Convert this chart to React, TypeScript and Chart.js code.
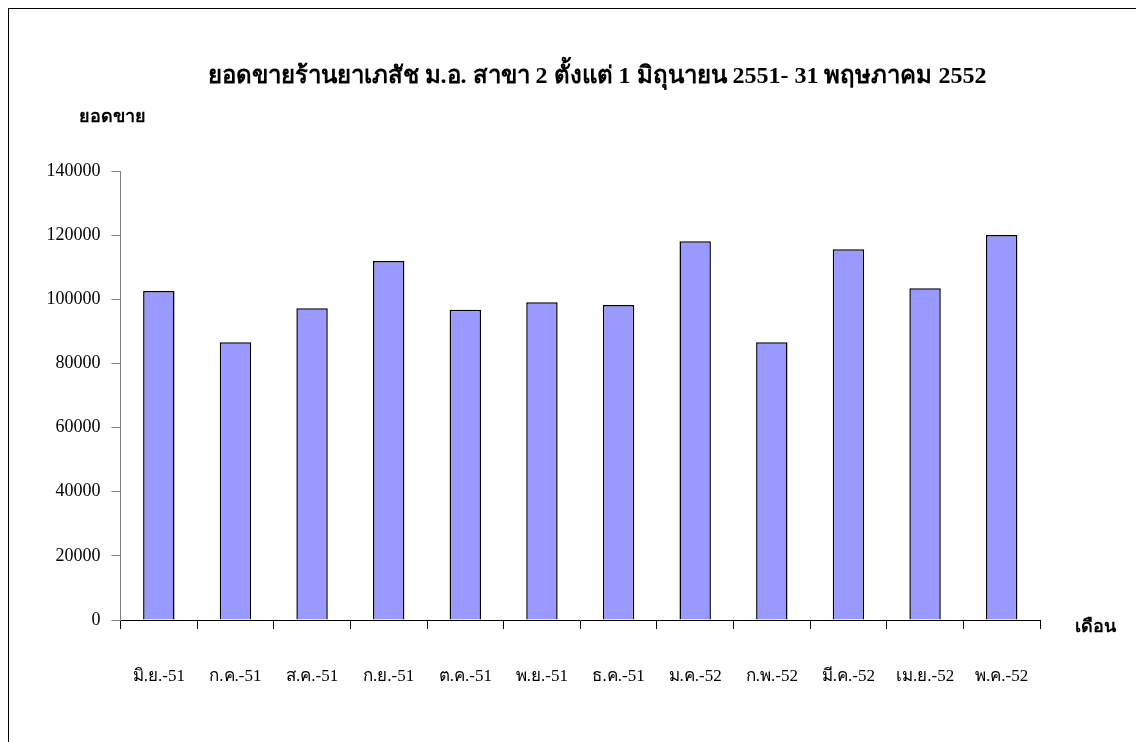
import React, { useEffect, useRef } from "react";
import { Chart, registerables } from "chart.js";

Chart.register(...registerables);

const TITLE = "ยอดขายร้านยาเภสัช ม.อ. สาขา 2 ตั้งแต่ 1 มิถุนายน 2551- 31 พฤษภาคม 2552";
const Y_TITLE = "ยอดขาย";
const X_TITLE = "เดือน";
const MONTHS = [
  "มิ.ย.-51", "ก.ค.-51", "ส.ค.-51", "ก.ย.-51", "ต.ค.-51", "พ.ย.-51",
  "ธ.ค.-51", "ม.ค.-52", "ก.พ.-52", "มี.ค.-52", "เม.ย.-52", "พ.ค.-52",
];
const SALES = [102600, 86600, 97200, 111900, 96700, 99100, 98250, 118100, 86600, 115600, 103450, 120050];
const Y_MIN = 0;
const Y_MAX = 140000;
const Y_STEP = 20000;

const SERIF = "'Liberation Serif', 'Times New Roman', 'DejaVu Serif', serif";

const textPlugin = {
  id: "customText",
  afterDraw(chart: any) {
    const ctx = chart.ctx;
    const area = chart.chartArea;
    ctx.save();
    ctx.fillStyle = "#000";
    ctx.textBaseline = "middle";
    ctx.textAlign = "center";
    ctx.font = `bold 24px ${SERIF}`;
    ctx.fillText(TITLE, 588, 68);
    ctx.textAlign = "left";
    ctx.font = `bold 18px ${SERIF}`;
    ctx.fillText(Y_TITLE, 70, 108);
    ctx.fillText(X_TITLE, area.right + 35, area.bottom + 7);
    ctx.restore();
  },
};

export default function App() {
  const ref = useRef<HTMLCanvasElement>(null);
  useEffect(() => {
    if (!ref.current) return;
    const chart = new Chart(ref.current, {
      type: "bar",
      data: {
        labels: MONTHS,
        datasets: [
          {
            data: SALES,
            backgroundColor: "#9999FF",
            borderColor: "#000000",
            borderWidth: 1.5,
            barPercentage: 0.41,
            categoryPercentage: 1,
          },
        ],
      },
      options: {
        responsive: false,
        animation: false,
        devicePixelRatio: 1,
        layout: { padding: { left: 0, right: 104, top: 162, bottom: 0 } },
        plugins: {
          legend: { display: false },
          title: { display: false },
          tooltip: { enabled: false },
        },
        scales: {
          x: {
            afterFit(scale: any) {
              scale.height = 122;
            },
            grid: {
              display: true,
              drawOnChartArea: false,
              drawTicks: true,
              tickLength: 9,
              color: "#000000",
              offset: true,
            },
            border: { display: true, color: "#000000", width: 1 },
            ticks: {
              color: "#000",
              font: { family: SERIF, size: 17 },
              padding: 37,
              maxRotation: 0,
              autoSkip: false,
            },
          },
          y: {
            min: Y_MIN,
            max: Y_MAX,
            afterFit(scale: any) {
              scale.width = 111.5;
            },
            grid: {
              display: true,
              drawOnChartArea: false,
              drawTicks: true,
              tickLength: 9,
              color: "#808080",
            },
            border: { display: true, color: "#808080", width: 1 },
            ticks: {
              stepSize: Y_STEP,
              color: "#000",
              font: { family: SERIF, size: 18 },
              padding: 11,
              callback: (v: any) => String(v),
            },
          },
        },
      },
      plugins: [textPlugin],
    });
    return () => chart.destroy();
  }, []);

  return (
    <div
      style={{
        width: 1135,
        height: 733,
        borderLeft: "1px solid #000",
        borderTop: "1px solid #000",
        background: "#fff",
      }}
    >
      <canvas ref={ref} width={1135} height={733} style={{ display: "block" }} />
    </div>
  );
}
